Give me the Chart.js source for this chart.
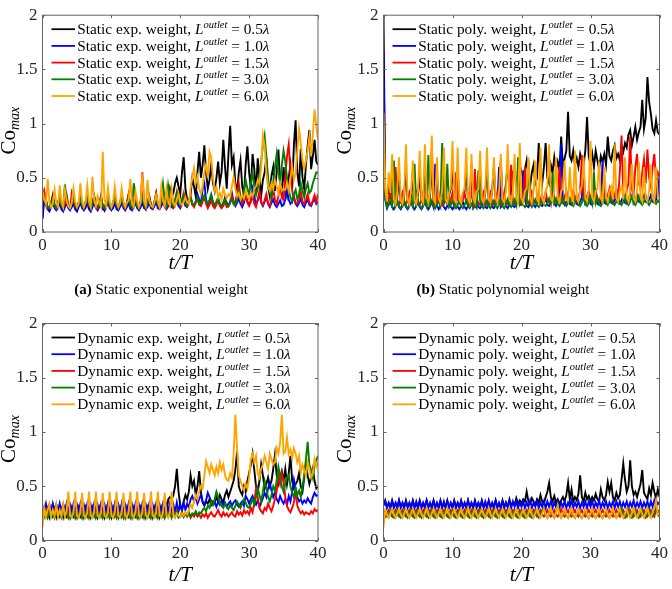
<!DOCTYPE html>
<html>
<head>
<meta charset="utf-8">
<script src="https://cdn.jsdelivr.net/npm/chart.js@4.4.1/dist/chart.umd.min.js"></script>
<style>
  html, body { margin: 0; padding: 0; background: #fff; }
  #wrap { position: relative; width: 672px; height: 589px; background: #fff; overflow: hidden; }
  canvas { position: absolute; }
</style>
</head>
<body>
<div id="wrap">
  <canvas id="cA" width="336" height="300" style="left:0;top:0;width:336px;height:300px"></canvas>
  <canvas id="cB" width="336" height="300" style="left:336px;top:0;width:336px;height:300px"></canvas>
  <canvas id="cC" width="336" height="289" style="left:0;top:300px;width:336px;height:289px"></canvas>
  <canvas id="cD" width="336" height="289" style="left:336px;top:300px;width:336px;height:289px"></canvas>
</div>
<script>
// sampling of every series: one value every 0.25 t/T, from 0 to 40
const T_STEP = 0.25;
const X_TICKS = [0, 10, 20, 30, 40];
const Y_TICKS = [0, 0.5, 1, 1.5, 2];
const OUTLET_LENGTHS = ["0.5", "1.0", "1.5", "3.0", "6.0"];
const SERIES_COLORS = ["#000000", "#0000ff", "#ff0000", "#008000", "#ffa500"];

// (a) static exponential weight
const A_BLACK = [
  0.13,0.35,0.30,0.22,0.20,0.27,0.34,0.24,0.21,0.26,0.33,0.23,0.20,0.27,0.34,0.24,0.21,0.26,0.32,0.23,
  0.20,0.27,0.33,0.24,0.21,0.26,0.34,0.23,0.20,0.27,0.33,0.24,0.21,0.26,0.34,0.23,0.20,0.27,0.33,0.24,
  0.21,0.26,0.34,0.23,0.21,0.27,0.33,0.24,0.21,0.26,0.34,0.24,0.21,0.27,0.33,0.23,0.21,0.27,0.34,0.24,
  0.21,0.27,0.33,0.24,0.22,0.27,0.35,0.24,0.22,0.28,0.36,0.25,0.23,0.30,0.40,0.32,0.36,0.45,0.50,0.42,
  0.35,0.55,0.69,0.40,0.30,0.28,0.35,0.50,0.42,0.33,0.55,0.74,0.50,0.62,0.80,0.55,0.40,0.48,0.62,0.45,
  0.38,0.50,0.65,0.45,0.55,0.85,0.60,0.40,0.72,0.98,0.62,0.69,0.45,0.36,0.55,0.66,0.42,0.34,0.62,0.79,
  0.55,0.40,0.72,0.58,0.36,0.68,0.50,0.34,0.48,0.55,0.68,0.42,0.33,0.52,0.60,0.38,0.55,0.76,0.45,0.35,
  0.60,0.42,0.34,0.50,0.62,0.40,0.80,1.03,0.55,0.42,0.77,0.50,0.40,0.62,0.80,0.94,0.58,0.70,0.85,0.65,
  0.62
];
const A_BLUE = [
  0.12,0.30,0.25,0.21,0.19,0.23,0.27,0.22,0.20,0.22,0.27,0.21,0.19,0.23,0.27,0.22,0.20,0.23,0.26,0.21,
  0.19,0.23,0.27,0.22,0.20,0.22,0.27,0.21,0.19,0.23,0.27,0.22,0.20,0.23,0.26,0.21,0.20,0.23,0.27,0.22,
  0.20,0.22,0.27,0.21,0.20,0.23,0.27,0.22,0.20,0.23,0.27,0.21,0.20,0.23,0.27,0.22,0.20,0.23,0.27,0.22,
  0.21,0.23,0.27,0.22,0.21,0.24,0.28,0.22,0.21,0.24,0.28,0.23,0.21,0.24,0.28,0.23,0.22,0.25,0.29,0.24,
  0.22,0.26,0.30,0.24,0.23,0.27,0.32,0.25,0.24,0.28,0.35,0.30,0.26,0.40,0.45,0.30,0.25,0.28,0.33,0.26,
  0.24,0.27,0.30,0.25,0.23,0.26,0.32,0.27,0.24,0.28,0.36,0.28,0.24,0.27,0.31,0.26,0.23,0.27,0.34,0.28,
  0.25,0.30,0.40,0.32,0.26,0.29,0.35,0.27,0.24,0.28,0.33,0.26,0.23,0.27,0.30,0.25,0.23,0.26,0.29,0.24,
  0.25,0.30,0.42,0.30,0.26,0.28,0.33,0.26,0.24,0.27,0.31,0.25,0.23,0.27,0.30,0.25,0.24,0.28,0.30,0.26,
  0.28
];
const A_RED = [
  0.30,0.38,0.28,0.23,0.22,0.26,0.31,0.25,0.22,0.27,0.32,0.25,0.22,0.26,0.31,0.24,0.22,0.36,0.30,0.24,
  0.22,0.26,0.31,0.25,0.22,0.27,0.32,0.25,0.22,0.26,0.33,0.25,0.22,0.26,0.31,0.24,0.22,0.27,0.34,0.25,
  0.22,0.26,0.32,0.25,0.22,0.27,0.31,0.24,0.22,0.27,0.35,0.25,0.22,0.27,0.33,0.25,0.22,0.28,0.55,0.27,
  0.22,0.27,0.33,0.25,0.22,0.28,0.36,0.26,0.23,0.28,0.40,0.27,0.23,0.29,0.35,0.26,0.23,0.29,0.37,0.27,
  0.24,0.30,0.36,0.27,0.24,0.28,0.33,0.26,0.23,0.27,0.30,0.25,0.24,0.28,0.32,0.26,0.22,0.25,0.29,0.24,
  0.22,0.25,0.30,0.24,0.22,0.24,0.28,0.23,0.24,0.27,0.33,0.26,0.28,0.35,0.45,0.32,0.26,0.30,0.36,0.27,
  0.24,0.28,0.34,0.26,0.23,0.30,0.38,0.28,0.25,0.29,0.35,0.26,0.24,0.30,0.40,0.30,0.26,0.33,0.45,0.32,
  0.30,0.50,0.70,0.81,0.55,0.38,0.30,0.27,0.26,0.30,0.38,0.28,0.26,0.30,0.35,0.27,0.25,0.29,0.34,0.28,
  0.35
];
const A_GREEN = [
  0.35,0.30,0.25,0.22,0.23,0.27,0.31,0.25,0.22,0.27,0.32,0.24,0.23,0.44,0.30,0.24,0.22,0.27,0.31,0.25,
  0.22,0.27,0.32,0.24,0.22,0.28,0.31,0.25,0.22,0.27,0.32,0.24,0.23,0.27,0.31,0.25,0.22,0.27,0.32,0.24,
  0.22,0.28,0.32,0.25,0.22,0.27,0.31,0.24,0.23,0.27,0.32,0.25,0.22,0.45,0.31,0.24,0.22,0.28,0.33,0.25,
  0.22,0.27,0.32,0.25,0.23,0.28,0.33,0.25,0.23,0.29,0.44,0.28,0.24,0.43,0.33,0.26,0.24,0.30,0.36,0.27,
  0.25,0.30,0.34,0.27,0.25,0.28,0.31,0.26,0.25,0.28,0.32,0.26,0.27,0.31,0.34,0.28,0.26,0.30,0.35,0.28,
  0.25,0.28,0.32,0.26,0.24,0.27,0.30,0.25,0.24,0.27,0.31,0.26,0.25,0.30,0.38,0.32,0.30,0.38,0.48,0.40,
  0.35,0.45,0.55,0.42,0.34,0.40,0.50,0.65,0.80,0.89,0.70,0.50,0.38,0.32,0.45,0.60,0.72,0.55,0.45,0.62,
  0.75,0.65,0.50,0.38,0.32,0.28,0.35,0.39,0.30,0.35,0.45,0.38,0.32,0.40,0.45,0.36,0.38,0.45,0.50,0.55,
  0.55
];
const A_ORANGE = [
  0.38,0.30,0.26,0.49,0.28,0.23,0.26,0.39,0.27,0.23,0.43,0.28,0.23,0.39,0.29,0.24,0.22,0.27,0.40,0.28,
  0.23,0.26,0.45,0.28,0.23,0.27,0.43,0.28,0.23,0.51,0.30,0.24,0.33,0.27,0.23,0.74,0.30,0.24,0.41,0.28,
  0.23,0.27,0.42,0.28,0.23,0.26,0.40,0.28,0.23,0.27,0.29,0.49,0.26,0.23,0.37,0.28,0.23,0.27,0.54,0.28,
  0.24,0.48,0.29,0.24,0.23,0.27,0.34,0.28,0.23,0.42,0.29,0.24,0.40,0.28,0.24,0.40,0.27,0.24,0.30,0.35,
  0.27,0.25,0.28,0.32,0.28,0.26,0.40,0.50,0.59,0.45,0.51,0.40,0.35,0.42,0.55,0.62,0.50,0.74,0.69,0.50,
  0.38,0.42,0.32,0.36,0.30,0.40,0.35,0.31,0.35,0.33,0.42,0.51,0.40,0.33,0.36,0.30,0.34,0.31,0.38,0.33,
  0.30,0.36,0.33,0.40,0.42,0.48,0.45,0.60,0.89,0.79,0.55,0.42,0.38,0.45,0.40,0.48,0.42,0.36,0.45,0.38,
  0.40,0.39,0.45,0.38,0.50,0.60,0.48,0.55,0.75,0.95,0.82,0.66,0.58,0.66,0.75,0.88,0.70,0.90,1.13,0.98,
  0.85
];

// (b) static polynomial weight
const B_BLACK = [
  2.00,0.35,0.26,0.45,0.30,0.55,0.29,0.26,0.33,0.50,0.28,0.25,0.34,0.58,0.29,0.26,0.33,0.50,0.28,0.26,
  0.34,0.55,0.29,0.26,0.60,0.30,0.26,0.34,0.62,0.29,0.26,0.52,0.30,0.26,0.34,0.56,0.29,0.26,0.34,0.40,
  0.60,0.29,0.26,0.55,0.30,0.26,0.34,0.38,0.56,0.29,0.26,0.52,0.30,0.26,0.35,0.40,0.55,0.30,0.27,0.36,
  0.58,0.30,0.27,0.38,0.60,0.32,0.28,0.40,0.66,0.33,0.30,0.45,0.62,0.40,0.35,0.55,0.58,0.45,0.52,0.62,
  0.55,0.50,0.58,0.66,0.50,0.42,0.55,0.62,0.45,0.50,0.82,0.55,0.45,0.60,0.82,0.50,0.45,0.62,0.55,0.69,
  0.58,0.65,0.57,0.88,0.60,0.68,0.75,1.11,0.70,0.66,0.75,0.62,0.68,0.60,0.72,0.66,0.62,0.75,1.06,0.70,
  0.62,0.72,0.60,0.75,0.66,0.58,0.70,0.65,0.72,0.62,0.88,0.70,0.66,0.75,0.80,0.68,0.72,0.66,0.80,0.74,
  0.82,0.78,0.90,0.94,0.80,0.88,0.97,0.85,0.92,0.97,1.22,0.95,1.05,1.43,1.20,1.09,0.95,0.91,1.03,0.92,
  0.90
];
const B_BLUE = [
  1.67,0.30,0.22,0.25,0.28,0.23,0.21,0.24,0.28,0.23,0.21,0.24,0.28,0.23,0.21,0.24,0.28,0.23,0.21,0.24,
  0.28,0.23,0.21,0.24,0.28,0.23,0.21,0.24,0.28,0.23,0.63,0.24,0.21,0.24,0.28,0.23,0.21,0.24,0.28,0.23,
  0.21,0.24,0.28,0.23,0.21,0.24,0.28,0.23,0.21,0.24,0.28,0.63,0.22,0.24,0.28,0.23,0.22,0.24,0.28,0.23,
  0.22,0.25,0.29,0.23,0.22,0.25,0.29,0.60,0.23,0.25,0.29,0.24,0.22,0.25,0.30,0.24,0.23,0.26,0.30,0.25,
  0.25,0.57,0.30,0.24,0.23,0.26,0.30,0.25,0.23,0.26,0.31,0.25,0.24,0.27,0.31,0.25,0.24,0.27,0.45,0.26,
  0.24,0.28,0.32,0.81,0.27,0.25,0.28,0.32,0.26,0.25,0.28,0.32,0.26,0.25,0.28,0.32,0.60,0.26,0.28,0.32,
  0.26,0.25,0.29,0.33,0.26,0.25,0.28,0.66,0.27,0.26,0.29,0.33,0.27,0.26,0.29,0.33,0.27,0.26,0.29,0.33,
  0.27,0.26,0.30,0.34,0.60,0.27,0.30,0.34,0.28,0.27,0.30,0.34,0.28,0.27,0.30,0.34,0.28,0.27,0.30,0.50,
  0.30
];
const B_RED = [
  0.90,0.35,0.26,0.30,0.36,0.26,0.30,0.60,0.28,0.25,0.30,0.36,0.27,0.25,0.30,0.36,0.27,0.25,0.30,0.36,
  0.27,0.25,0.30,0.36,0.27,0.25,0.30,0.36,0.78,0.28,0.25,0.30,0.36,0.27,0.25,0.30,0.36,0.27,0.25,0.30,
  0.36,0.27,0.55,0.30,0.27,0.25,0.30,0.36,0.27,0.25,0.30,0.36,0.27,0.58,0.30,0.27,0.25,0.30,0.36,0.27,
  0.25,0.30,0.36,0.27,0.25,0.30,0.36,0.27,0.25,0.30,0.36,0.28,0.26,0.30,0.62,0.28,0.26,0.30,0.36,0.28,
  0.26,0.31,0.60,0.29,0.26,0.31,0.37,0.29,0.27,0.31,0.37,0.29,0.27,0.31,0.37,0.29,0.27,0.31,0.37,0.29,
  0.27,0.32,0.60,0.29,0.27,0.32,0.38,0.30,0.28,0.32,0.38,0.30,0.28,0.32,0.38,0.71,0.30,0.28,0.33,0.38,
  0.30,0.28,0.33,0.38,0.30,0.28,0.33,0.38,0.30,0.29,0.34,0.40,0.30,0.29,0.34,0.40,0.31,0.55,0.89,0.35,
  0.31,0.38,0.45,0.88,0.40,0.35,0.60,0.72,0.45,0.40,0.55,0.67,0.45,0.76,0.50,0.42,0.60,0.72,0.48,0.55,
  0.50
];
const B_GREEN = [
  1.00,0.32,0.23,0.26,0.29,0.24,0.66,0.25,0.29,0.24,0.22,0.25,0.29,0.24,0.22,0.25,0.29,0.24,0.63,0.25,
  0.29,0.24,0.22,0.25,0.29,0.24,0.71,0.25,0.29,0.24,0.22,0.25,0.29,0.24,0.82,0.26,0.29,0.63,0.23,0.25,
  0.29,0.24,0.22,0.25,0.29,0.24,0.22,0.25,0.29,0.24,0.22,0.25,0.29,0.24,0.22,0.57,0.29,0.24,0.22,0.25,
  0.29,0.24,0.22,0.25,0.29,0.24,0.22,0.25,0.30,0.24,0.22,0.25,0.30,0.25,0.23,0.26,0.30,0.25,0.69,0.26,
  0.30,0.25,0.23,0.26,0.66,0.26,0.23,0.26,0.30,0.25,0.23,0.26,0.31,0.25,0.24,0.27,0.31,0.26,0.55,0.27,
  0.31,0.26,0.24,0.27,0.31,0.26,0.24,0.27,0.31,0.26,0.24,0.27,0.32,0.26,0.24,0.27,0.32,0.26,0.24,0.27,
  0.32,0.26,0.55,0.27,0.32,0.26,0.24,0.27,0.32,0.27,0.25,0.28,0.32,0.27,0.25,0.28,0.33,0.27,0.25,0.28,
  0.33,0.27,0.25,0.28,0.33,0.27,0.25,0.28,0.33,0.27,0.25,0.28,0.33,0.27,0.25,0.28,0.34,0.28,0.26,0.29,
  0.27
];
const B_ORANGE = [
  1.10,0.40,0.28,0.55,0.36,0.72,0.30,0.26,0.38,0.69,0.29,0.26,0.36,0.81,0.30,0.26,0.37,0.66,0.29,0.26,
  0.38,0.75,0.30,0.27,0.81,0.32,0.27,0.38,0.89,0.30,0.27,0.69,0.31,0.27,0.38,0.78,0.30,0.27,0.36,0.42,
  0.84,0.30,0.27,0.78,0.30,0.27,0.37,0.40,0.78,0.30,0.27,0.72,0.31,0.27,0.37,0.40,0.75,0.30,0.27,0.38,
  0.78,0.30,0.27,0.38,0.69,0.31,0.27,0.38,0.72,0.30,0.27,0.38,0.81,0.30,0.27,0.38,0.72,0.31,0.27,0.82,
  0.31,0.27,0.38,0.40,0.69,0.31,0.27,0.38,0.66,0.30,0.27,0.78,0.31,0.27,0.38,0.42,0.81,0.31,0.28,0.38,
  0.69,0.31,0.28,0.38,0.40,0.66,0.30,0.28,0.60,0.32,0.28,0.75,0.31,0.28,0.38,0.42,0.69,0.31,0.28,0.38,
  0.84,0.32,0.28,0.38,0.40,0.65,0.31,0.28,0.60,0.32,0.28,0.38,0.42,0.30,0.81,0.31,0.28,0.38,0.42,0.30,
  0.69,0.32,0.28,0.38,0.63,0.31,0.28,0.38,0.65,0.32,0.28,0.60,0.31,0.28,0.38,0.62,0.32,0.28,0.60,0.33,
  0.30
];

// (c) dynamic exponential weight
const C_BLACK = [
  0.25,0.30,0.23,0.29,0.22,0.30,0.23,0.29,0.22,0.30,0.23,0.29,0.22,0.30,0.23,0.29,0.22,0.30,0.23,0.29,
  0.22,0.30,0.23,0.29,0.22,0.30,0.23,0.29,0.22,0.30,0.23,0.29,0.22,0.30,0.23,0.29,0.22,0.30,0.23,0.29,
  0.22,0.30,0.23,0.29,0.22,0.30,0.23,0.29,0.22,0.30,0.23,0.29,0.22,0.30,0.23,0.29,0.22,0.30,0.23,0.29,
  0.22,0.30,0.23,0.29,0.22,0.30,0.23,0.29,0.22,0.30,0.23,0.29,0.25,0.38,0.40,0.38,0.42,0.50,0.66,0.45,
  0.32,0.30,0.36,0.42,0.38,0.45,0.60,0.50,0.55,0.42,0.50,0.64,0.45,0.35,0.32,0.36,0.34,0.38,0.33,0.36,
  0.35,0.40,0.36,0.42,0.38,0.35,0.42,0.46,0.40,0.45,0.50,0.55,0.65,0.82,0.50,0.45,0.42,0.50,0.45,0.55,
  0.62,0.70,0.80,0.65,0.50,0.45,0.55,0.70,0.60,0.48,0.52,0.58,0.50,0.55,0.66,0.79,0.60,0.52,0.58,0.64,
  0.55,0.66,0.52,0.62,0.78,0.55,0.48,0.52,0.55,0.62,0.50,0.45,0.58,0.70,0.60,0.52,0.58,0.66,0.55,0.48,
  0.50
];
const C_BLUE = [
  0.32,0.27,0.34,0.26,0.33,0.26,0.34,0.27,0.33,0.26,0.34,0.26,0.33,0.27,0.34,0.26,0.33,0.26,0.34,0.27,
  0.33,0.26,0.34,0.26,0.33,0.27,0.34,0.26,0.33,0.26,0.34,0.27,0.33,0.26,0.34,0.26,0.33,0.27,0.34,0.26,
  0.33,0.26,0.34,0.27,0.33,0.26,0.34,0.26,0.33,0.27,0.34,0.26,0.33,0.26,0.34,0.27,0.33,0.26,0.34,0.26,
  0.33,0.27,0.34,0.26,0.33,0.26,0.34,0.27,0.33,0.26,0.34,0.26,0.33,0.27,0.34,0.26,0.33,0.26,0.35,0.27,
  0.33,0.27,0.35,0.28,0.34,0.30,0.38,0.41,0.36,0.40,0.34,0.38,0.42,0.36,0.33,0.37,0.44,0.40,0.36,0.33,
  0.35,0.31,0.36,0.33,0.37,0.32,0.35,0.31,0.34,0.36,0.32,0.35,0.37,0.33,0.31,0.34,0.36,0.32,0.41,0.38,
  0.34,0.38,0.41,0.36,0.33,0.37,0.31,0.35,0.39,0.44,0.40,0.48,0.53,0.46,0.40,0.44,0.38,0.35,0.41,0.37,
  0.34,0.38,0.33,0.41,0.36,0.45,0.56,0.48,0.40,0.36,0.38,0.34,0.37,0.35,0.39,0.36,0.34,0.40,0.44,0.41,
  0.42
];
const C_RED = [
  0.30,0.23,0.28,0.22,0.27,0.23,0.28,0.22,0.27,0.23,0.28,0.22,0.27,0.23,0.28,0.22,0.27,0.23,0.28,0.22,
  0.27,0.23,0.28,0.22,0.27,0.23,0.28,0.22,0.27,0.23,0.28,0.22,0.27,0.23,0.28,0.22,0.27,0.23,0.28,0.22,
  0.27,0.23,0.28,0.22,0.27,0.23,0.28,0.22,0.27,0.23,0.28,0.22,0.27,0.23,0.28,0.22,0.27,0.23,0.28,0.22,
  0.27,0.23,0.28,0.22,0.27,0.23,0.28,0.22,0.27,0.23,0.28,0.22,0.27,0.23,0.28,0.22,0.27,0.23,0.28,0.22,
  0.22,0.26,0.22,0.25,0.22,0.25,0.21,0.24,0.22,0.25,0.22,0.24,0.21,0.24,0.22,0.25,0.21,0.24,0.26,0.23,
  0.22,0.25,0.28,0.24,0.22,0.26,0.23,0.25,0.22,0.24,0.26,0.23,0.22,0.27,0.24,0.26,0.23,0.28,0.25,0.27,
  0.24,0.30,0.26,0.35,0.48,0.40,0.30,0.27,0.25,0.30,0.28,0.34,0.30,0.27,0.32,0.38,0.45,0.60,0.52,0.62,
  0.55,0.40,0.32,0.28,0.26,0.30,0.35,0.45,0.32,0.28,0.25,0.27,0.24,0.26,0.25,0.24,0.27,0.25,0.29,0.27,
  0.28
];
const C_GREEN = [
  0.28,0.22,0.27,0.21,0.26,0.22,0.27,0.21,0.26,0.22,0.27,0.21,0.26,0.22,0.27,0.21,0.26,0.22,0.27,0.21,
  0.26,0.22,0.27,0.21,0.26,0.22,0.27,0.21,0.26,0.22,0.27,0.21,0.26,0.22,0.27,0.21,0.26,0.22,0.27,0.21,
  0.26,0.22,0.27,0.21,0.26,0.22,0.27,0.21,0.26,0.22,0.27,0.21,0.26,0.22,0.27,0.21,0.26,0.22,0.27,0.21,
  0.26,0.22,0.27,0.21,0.26,0.22,0.27,0.21,0.26,0.22,0.27,0.21,0.26,0.22,0.27,0.21,0.26,0.22,0.27,0.21,
  0.22,0.26,0.22,0.25,0.23,0.26,0.22,0.25,0.24,0.27,0.23,0.26,0.25,0.28,0.30,0.27,0.32,0.30,0.36,0.33,
  0.38,0.45,0.40,0.35,0.32,0.30,0.34,0.31,0.29,0.33,0.30,0.28,0.32,0.36,0.33,0.30,0.34,0.38,0.35,0.31,
  0.30,0.34,0.38,0.33,0.40,0.48,0.42,0.36,0.45,0.55,0.48,0.40,0.36,0.42,0.50,0.46,0.55,0.68,0.60,0.50,
  0.45,0.52,0.58,0.60,0.50,0.44,0.40,0.48,0.42,0.46,0.40,0.50,0.60,0.75,0.91,0.70,0.65,0.58,0.70,0.74,
  0.78
];
const C_ORANGE = [
  0.12,0.30,0.22,0.28,0.33,0.22,0.28,0.23,0.33,0.22,0.28,0.23,0.33,0.22,0.27,0.45,0.23,0.21,0.26,0.45,
  0.23,0.21,0.26,0.44,0.23,0.21,0.26,0.45,0.23,0.21,0.26,0.45,0.23,0.21,0.26,0.44,0.23,0.21,0.26,0.45,
  0.23,0.21,0.26,0.45,0.23,0.21,0.26,0.44,0.23,0.21,0.26,0.45,0.23,0.21,0.26,0.45,0.23,0.21,0.26,0.44,
  0.23,0.21,0.26,0.45,0.23,0.21,0.26,0.45,0.23,0.21,0.26,0.44,0.23,0.21,0.26,0.45,0.23,0.21,0.25,0.23,
  0.22,0.25,0.23,0.26,0.24,0.28,0.33,0.30,0.36,0.42,0.38,0.45,0.50,0.48,0.60,0.73,0.68,0.62,0.70,0.65,
  0.60,0.68,0.62,0.72,0.65,0.70,0.60,0.56,0.55,0.62,0.58,0.80,1.16,0.85,0.60,0.55,0.50,0.46,0.52,0.48,
  0.58,0.75,0.80,0.72,0.78,0.62,0.58,0.66,0.70,0.78,0.72,0.66,0.80,0.75,0.70,0.72,0.85,0.80,0.90,1.16,
  0.80,0.82,0.95,0.80,0.84,0.76,0.85,0.80,0.72,0.78,0.62,0.70,0.65,0.60,0.72,0.66,0.58,0.62,0.75,0.68,
  0.72
];

// (d) dynamic polynomial weight
const D_BLACK = [
  0.32,0.37,0.31,0.34,0.30,0.37,0.31,0.34,0.30,0.37,0.31,0.34,0.30,0.37,0.31,0.34,0.30,0.37,0.31,0.34,
  0.30,0.37,0.31,0.34,0.30,0.37,0.31,0.34,0.30,0.37,0.31,0.34,0.30,0.37,0.31,0.34,0.30,0.37,0.31,0.34,
  0.30,0.37,0.31,0.34,0.30,0.37,0.31,0.34,0.30,0.37,0.31,0.34,0.30,0.37,0.31,0.34,0.30,0.37,0.31,0.34,
  0.30,0.37,0.31,0.34,0.30,0.37,0.31,0.34,0.30,0.37,0.31,0.35,0.31,0.38,0.32,0.35,0.33,0.39,0.34,0.37,
  0.34,0.38,0.36,0.45,0.36,0.34,0.39,0.36,0.33,0.38,0.35,0.42,0.36,0.34,0.40,0.45,0.53,0.40,0.36,0.41,
  0.35,0.38,0.34,0.37,0.40,0.36,0.42,0.53,0.38,0.47,0.36,0.40,0.37,0.43,0.60,0.40,0.36,0.44,0.38,0.41,
  0.36,0.40,0.37,0.43,0.38,0.36,0.47,0.40,0.37,0.42,0.54,0.45,0.53,0.40,0.37,0.44,0.39,0.42,0.56,0.71,
  0.56,0.45,0.50,0.74,0.50,0.42,0.45,0.40,0.46,0.52,0.65,0.44,0.41,0.38,0.48,0.42,0.53,0.45,0.39,0.47,
  0.40
];
const D_BLUE = [
  0.33,0.36,0.30,0.35,0.31,0.36,0.30,0.35,0.31,0.37,0.30,0.35,0.31,0.36,0.30,0.35,0.31,0.36,0.30,0.36,
  0.31,0.36,0.30,0.35,0.31,0.37,0.30,0.35,0.31,0.36,0.30,0.35,0.31,0.36,0.30,0.36,0.31,0.36,0.30,0.35,
  0.31,0.36,0.30,0.35,0.31,0.36,0.30,0.35,0.31,0.37,0.30,0.35,0.31,0.36,0.30,0.35,0.31,0.36,0.30,0.36,
  0.31,0.36,0.30,0.35,0.31,0.37,0.30,0.35,0.31,0.36,0.30,0.35,0.31,0.36,0.30,0.36,0.31,0.36,0.30,0.35,
  0.31,0.36,0.30,0.35,0.31,0.37,0.30,0.35,0.31,0.36,0.30,0.35,0.31,0.36,0.30,0.36,0.31,0.36,0.30,0.35,
  0.31,0.36,0.30,0.35,0.31,0.36,0.30,0.35,0.31,0.37,0.30,0.35,0.31,0.36,0.30,0.35,0.31,0.36,0.30,0.36,
  0.31,0.36,0.30,0.35,0.31,0.37,0.30,0.35,0.31,0.36,0.30,0.35,0.31,0.36,0.30,0.36,0.31,0.36,0.30,0.35,
  0.31,0.36,0.30,0.35,0.31,0.37,0.30,0.35,0.31,0.36,0.30,0.35,0.31,0.36,0.30,0.36,0.31,0.37,0.30,0.35,
  0.33
];
const D_RED = [
  0.26,0.22,0.25,0.28,0.24,0.22,0.25,0.28,0.24,0.22,0.25,0.28,0.24,0.22,0.25,0.28,0.24,0.22,0.25,0.28,
  0.24,0.22,0.25,0.28,0.24,0.22,0.25,0.28,0.24,0.22,0.25,0.28,0.24,0.22,0.25,0.28,0.24,0.22,0.25,0.28,
  0.24,0.22,0.25,0.28,0.24,0.22,0.25,0.28,0.24,0.22,0.25,0.28,0.24,0.22,0.25,0.28,0.24,0.22,0.25,0.28,
  0.24,0.22,0.25,0.28,0.24,0.22,0.25,0.28,0.24,0.22,0.25,0.28,0.24,0.22,0.25,0.28,0.24,0.22,0.25,0.28,
  0.24,0.22,0.25,0.28,0.24,0.22,0.25,0.28,0.24,0.22,0.25,0.28,0.24,0.22,0.25,0.28,0.24,0.22,0.25,0.28,
  0.24,0.22,0.25,0.29,0.24,0.22,0.25,0.28,0.24,0.22,0.25,0.28,0.24,0.22,0.25,0.28,0.24,0.22,0.25,0.28,
  0.24,0.22,0.25,0.28,0.24,0.22,0.25,0.28,0.24,0.22,0.25,0.28,0.24,0.22,0.25,0.28,0.24,0.22,0.26,0.28,
  0.24,0.22,0.30,0.28,0.24,0.22,0.25,0.28,0.24,0.22,0.25,0.28,0.24,0.22,0.25,0.28,0.24,0.22,0.29,0.28,
  0.24
];
const D_GREEN = [
  0.28,0.24,0.22,0.24,0.28,0.23,0.21,0.24,0.28,0.23,0.21,0.24,0.28,0.23,0.21,0.24,0.28,0.23,0.21,0.24,
  0.28,0.23,0.21,0.24,0.28,0.23,0.21,0.24,0.28,0.23,0.21,0.24,0.28,0.23,0.21,0.24,0.28,0.23,0.21,0.24,
  0.28,0.23,0.21,0.24,0.28,0.23,0.21,0.24,0.28,0.23,0.21,0.24,0.28,0.23,0.21,0.24,0.28,0.23,0.21,0.24,
  0.28,0.23,0.21,0.24,0.28,0.23,0.21,0.24,0.28,0.23,0.21,0.24,0.28,0.23,0.21,0.24,0.28,0.23,0.21,0.24,
  0.28,0.23,0.21,0.24,0.28,0.23,0.21,0.24,0.28,0.23,0.21,0.24,0.28,0.30,0.24,0.21,0.24,0.28,0.23,0.21,
  0.26,0.33,0.24,0.21,0.24,0.28,0.23,0.21,0.24,0.28,0.23,0.21,0.24,0.28,0.23,0.21,0.24,0.28,0.23,0.21,
  0.24,0.28,0.23,0.21,0.24,0.28,0.23,0.21,0.24,0.28,0.23,0.21,0.24,0.28,0.23,0.21,0.24,0.26,0.30,0.23,
  0.21,0.24,0.28,0.23,0.21,0.24,0.28,0.23,0.21,0.24,0.28,0.23,0.21,0.24,0.28,0.23,0.22,0.26,0.31,0.24,
  0.22
];
const D_ORANGE = [
  0.12,0.28,0.24,0.21,0.25,0.29,0.24,0.21,0.25,0.29,0.24,0.21,0.25,0.29,0.24,0.21,0.25,0.29,0.24,0.21,
  0.25,0.29,0.24,0.21,0.25,0.30,0.24,0.21,0.25,0.29,0.24,0.21,0.25,0.29,0.24,0.21,0.25,0.30,0.24,0.21,
  0.25,0.29,0.24,0.21,0.25,0.29,0.24,0.21,0.25,0.30,0.24,0.21,0.25,0.29,0.24,0.21,0.25,0.29,0.24,0.21,
  0.25,0.30,0.24,0.21,0.25,0.29,0.24,0.21,0.25,0.29,0.24,0.21,0.25,0.30,0.24,0.21,0.25,0.29,0.24,0.21,
  0.25,0.29,0.24,0.21,0.25,0.30,0.24,0.21,0.25,0.29,0.24,0.21,0.25,0.29,0.24,0.21,0.25,0.30,0.24,0.21,
  0.25,0.32,0.24,0.21,0.25,0.29,0.24,0.21,0.25,0.30,0.24,0.21,0.25,0.29,0.24,0.21,0.25,0.29,0.24,0.21,
  0.25,0.30,0.24,0.21,0.25,0.29,0.24,0.21,0.25,0.29,0.24,0.21,0.25,0.30,0.24,0.21,0.25,0.29,0.24,0.21,
  0.25,0.29,0.24,0.21,0.25,0.30,0.24,0.21,0.25,0.29,0.24,0.21,0.25,0.30,0.24,0.21,0.26,0.30,0.37,0.24,
  0.25
];

const SERIF = "'Liberation Serif', 'Times New Roman', serif";
const AXIS_COLOR = "#666666";
const TEXT_COLOR = "#262626";

function toPoints(values) {
  return values.map((v, i) => ({ x: i * T_STEP, y: v }));
}

function drawRuns(ctx, x, y, runs) {
  for (const r of runs) {
    ctx.font = r.font;
    ctx.fillText(r.text, x, y + (r.dy || 0));
    x += ctx.measureText(r.text).width;
  }
  return x;
}

function runsWidth(ctx, runs) {
  let w = 0;
  for (const r of runs) {
    ctx.font = r.font;
    w += ctx.measureText(r.text).width;
  }
  return w;
}

// box, inward ticks, legend, axis titles, caption
const panelDecor = {
  id: "panelDecor",
  afterDatasetsDraw(chart, args, opts) {
    const ctx = chart.ctx;
    const a = chart.chartArea;
    const xs = chart.scales.x;
    const ys = chart.scales.y;
    ctx.save();
    ctx.strokeStyle = AXIS_COLOR;
    ctx.lineWidth = 1;
    ctx.strokeRect(a.left, a.top, a.right - a.left, a.bottom - a.top);
    ctx.beginPath();
    for (const v of X_TICKS) {
      const px = Math.round(xs.getPixelForValue(v)) + 0.5;
      ctx.moveTo(px, a.bottom); ctx.lineTo(px, a.bottom - 3);
      ctx.moveTo(px, a.top); ctx.lineTo(px, a.top + 3);
    }
    for (const v of Y_TICKS) {
      const py = Math.round(ys.getPixelForValue(v)) + 0.5;
      ctx.moveTo(a.left, py); ctx.lineTo(a.left + 3, py);
      ctx.moveTo(a.right, py); ctx.lineTo(a.right - 3, py);
    }
    ctx.stroke();
    ctx.restore();
  },
  afterDraw(chart, args, opts) {
    const ctx = chart.ctx;
    const a = chart.chartArea;
    ctx.save();

    // legend inside the axes
    ctx.textBaseline = "alphabetic";
    SERIES_COLORS.forEach((c, i) => {
      const y = a.top + 14 + i * 16.7;
      ctx.strokeStyle = c;
      ctx.lineWidth = 1.8;
      ctx.beginPath();
      ctx.moveTo(a.left + 9, y);
      ctx.lineTo(a.left + 32.5, y);
      ctx.stroke();
      ctx.fillStyle = "#000";
      drawRuns(ctx, a.left + 34.8, y + 5, [
        { text: opts.prefix + ", ", font: "15.3px " + SERIF },
        { text: "L", font: "italic 15.3px " + SERIF },
        { text: "outlet", font: "italic 10.5px " + SERIF, dy: -6 },
        { text: " = " + OUTLET_LENGTHS[i], font: "15.3px " + SERIF },
        { text: "\u03bb", font: "italic 15.3px " + SERIF }
      ]);
    });

    // y title Co_max
    ctx.fillStyle = "#000";
    const yRuns = [
      { text: "Co", font: "21px " + SERIF },
      { text: "max", font: "italic 14px " + SERIF, dy: 4 }
    ];
    const yw = runsWidth(ctx, yRuns);
    ctx.save();
    ctx.translate(15, (a.top + a.bottom) / 2 + 7);
    ctx.rotate(-Math.PI / 2);
    drawRuns(ctx, -yw / 2, 0, yRuns);
    ctx.restore();

    // x title t/T
    ctx.font = "italic 21px " + SERIF;
    ctx.textAlign = "center";
    ctx.fillText("t/T", (a.left + a.right) / 2, a.bottom + opts.xTitleGap);

    // caption
    if (opts.caption) {
      const capRuns = [
        { text: opts.caption[0], font: "bold 15px " + SERIF },
        { text: opts.caption[1], font: "15px " + SERIF }
      ];
      ctx.textAlign = "left";
      const cw = runsWidth(ctx, capRuns);
      drawRuns(ctx, opts.captionX - cw / 2, opts.captionY, capRuns);
    }
    ctx.restore();
  }
};

const panels = [
  { id: "cA", prefix: "Static exp. weight", series: [A_BLACK, A_BLUE, A_RED, A_GREEN, A_ORANGE],
    area: { left: 42.5, right: 318, top: 15, bottom: 232 }, xTitleGap: 37,
    caption: ["(a)", " Static exponential weight"], captionX: 161, captionY: 294 },
  { id: "cB", prefix: "Static poly. weight", series: [B_BLACK, B_BLUE, B_RED, B_GREEN, B_ORANGE],
    area: { left: 47.5, right: 323.5, top: 15, bottom: 232 }, xTitleGap: 37,
    caption: ["(b)", " Static polynomial weight"], captionX: 167, captionY: 294 },
  { id: "cC", prefix: "Dynamic exp. weight", series: [C_BLACK, C_BLUE, C_RED, C_GREEN, C_ORANGE],
    area: { left: 42.5, right: 318, top: 23.5, bottom: 240.5 }, xTitleGap: 40, caption: null },
  { id: "cD", prefix: "Dynamic poly. weight", series: [D_BLACK, D_BLUE, D_RED, D_GREEN, D_ORANGE],
    area: { left: 47.5, right: 323.5, top: 23.5, bottom: 240.5 }, xTitleGap: 40, caption: null }
];

panels.forEach((p) => {
  const canvas = document.getElementById(p.id);
  const W = canvas.width, H = canvas.height;
  p.series.forEach((s, i) => {
    if (s.length !== 161) console.error(p.id + " series " + i + " has " + s.length + " values");
  });
  new Chart(canvas, {
    type: "line",
    data: {
      datasets: p.series.map((s, i) => ({
        label: OUTLET_LENGTHS[i],
        data: toPoints(s),
        borderColor: SERIES_COLORS[i],
        borderWidth: 1.9,
        pointRadius: 0,
        tension: 0,
        fill: false,
        order: 5 - i
      }))
    },
    options: {
      responsive: false,
      animation: false,
      events: [],
      parsing: false,
      normalized: true,
      layout: { padding: { left: 0, top: p.area.top, right: W - p.area.right, bottom: 0 } },
      plugins: {
        legend: { display: false },
        tooltip: { enabled: false },
        panelDecor: { prefix: p.prefix, caption: p.caption, captionX: p.captionX, captionY: p.captionY, xTitleGap: p.xTitleGap }
      },
      scales: {
        x: {
          type: "linear", min: 0, max: 40,
          afterFit: (s) => { s.height = H - p.area.bottom; },
          afterBuildTicks: (s) => { s.ticks = X_TICKS.map((v) => ({ value: v })); },
          grid: { display: false, drawTicks: false },
          border: { display: false },
          ticks: { padding: 3, color: TEXT_COLOR, font: { family: SERIF, size: 17 }, maxRotation: 0,
                   callback: (v) => String(v) }
        },
        y: {
          type: "linear", min: 0, max: 2,
          afterFit: (s) => { s.width = p.area.left; },
          afterBuildTicks: (s) => { s.ticks = Y_TICKS.map((v) => ({ value: v })); },
          grid: { display: false, drawTicks: false },
          border: { display: false },
          ticks: { padding: 5, color: TEXT_COLOR, font: { family: SERIF, size: 17 },
                   callback: (v) => String(v) }
        }
      }
    },
    plugins: [panelDecor]
  });
});
</script>
</body>
</html>
